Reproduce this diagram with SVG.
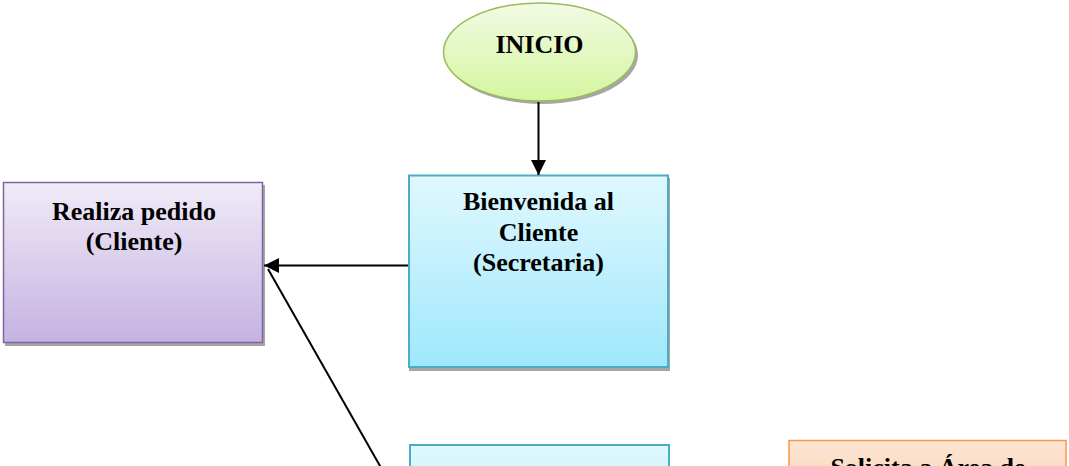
<svg xmlns="http://www.w3.org/2000/svg" width="1069" height="466" viewBox="0 0 1069 466">
<defs>
<linearGradient id="gGreen" x1="0" y1="0" x2="0" y2="1"><stop offset="0" stop-color="#f2fbe4"/><stop offset="1" stop-color="#d4f59f"/></linearGradient>
<linearGradient id="gPurple" x1="0" y1="0" x2="0" y2="1"><stop offset="0" stop-color="#f0ebf7"/><stop offset="1" stop-color="#c5b2e2"/></linearGradient>
<linearGradient id="gBlue" x1="0" y1="0" x2="0" y2="1"><stop offset="0" stop-color="#e0f8fe"/><stop offset="1" stop-color="#9fe8fc"/></linearGradient>
<linearGradient id="gBlue2" x1="0" y1="0" x2="0" y2="1"><stop offset="0" stop-color="#e0f8fe"/><stop offset="1" stop-color="#c8f1fd"/></linearGradient>
<linearGradient id="gOrange" x1="0" y1="0" x2="0" y2="1"><stop offset="0" stop-color="#fde6d5"/><stop offset="1" stop-color="#fbd3b4"/></linearGradient>
<marker id="arr" viewBox="0 0 10 10" refX="10" refY="5" markerWidth="7.5" markerHeight="7.5" orient="auto" markerUnits="strokeWidth"><path d="M0,0 L10,5 L0,10 Z" fill="#000"/></marker>
</defs>
<style>
.shadow{fill:#a6a6a6}
.lbl{font-family:"Liberation Serif","Times New Roman",serif;font-weight:bold;font-size:26px;fill:#000;text-anchor:middle}
.conn{stroke:#000;stroke-width:2;fill:none}
</style>
<g id="inicio">
<ellipse class="shadow" cx="542" cy="55" rx="96" ry="49"/>
<ellipse cx="539.5" cy="52" rx="96" ry="49" fill="url(#gGreen)" stroke="#9bbb59" stroke-width="1.5"/>
<text class="lbl" x="539.5" y="53">INICIO</text>
</g>
<g id="realiza">
<rect class="shadow" x="5" y="185" width="260" height="161"/>
<rect x="3.5" y="182.5" width="259" height="160" fill="url(#gPurple)" stroke="#8064a2" stroke-width="1.5"/>
<text class="lbl" x="134" y="220">Realiza pedido</text>
<text class="lbl" x="134" y="250">(Cliente)</text>
</g>
<g id="bienvenida">
<rect class="shadow" x="409" y="178" width="261" height="193"/>
<rect x="409" y="175.5" width="259" height="191.5" fill="url(#gBlue)" stroke="#4bacc6" stroke-width="2"/>
<text class="lbl" x="538.5" y="210">Bienvenida al</text>
<text class="lbl" x="538.5" y="241">Cliente</text>
<text class="lbl" x="538.5" y="271">(Secretaria)</text>
</g>
<g id="blue2">
<rect x="410" y="445" width="259" height="60" fill="url(#gBlue2)" stroke="#4bacc6" stroke-width="2"/>
</g>
<g id="solicita">
<rect x="789" y="440.5" width="277" height="60" fill="url(#gOrange)" stroke="#f79646" stroke-width="1.5"/>
<text class="lbl" x="928" y="476">Solicita a Área de</text>
</g>
<g id="connectors">
<line class="conn" x1="538.5" y1="102" x2="538.5" y2="175" marker-end="url(#arr)"/>
<line class="conn" x1="408" y1="265.5" x2="264" y2="265.5" marker-end="url(#arr)"/>
<line class="conn" x1="388" y1="480" x2="268" y2="269"/>
</g>
</svg>
